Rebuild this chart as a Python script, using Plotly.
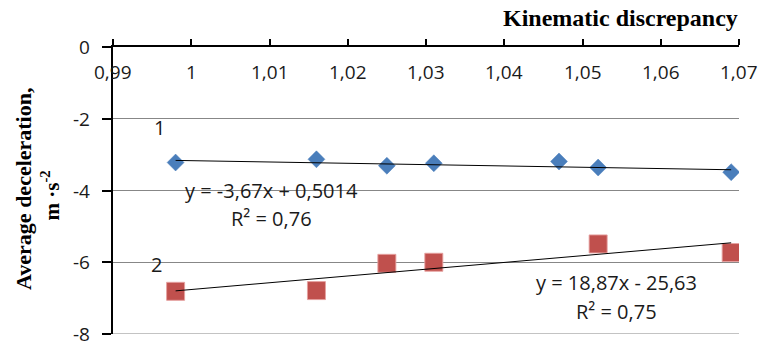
import plotly.graph_objects as go

# Data
x1 = [0.998, 1.016, 1.025, 1.031, 1.047, 1.052, 1.069]
y1 = [-3.22, -3.13, -3.31, -3.24, -3.19, -3.36, -3.49]
x2 = [0.998, 1.016, 1.025, 1.031, 1.052, 1.069]
y2 = [-6.81, -6.79, -6.03, -6.00, -5.49, -5.73]
fit1 = [-3.67, 0.5014]   # slope, intercept
fit2 = [18.87, -25.63]
xtick_vals = [0.99, 1.0, 1.01, 1.02, 1.03, 1.04, 1.05, 1.06, 1.07]
xtick_text = ["0,99", "1", "1,01", "1,02", "1,03", "1,04", "1,05", "1,06", "1,07"]
ytick_vals = [0, -2, -4, -6, -8]
ytick_text = ["0", "-2", "-4", "-6", "-8"]

blue = "#4A7EBB"
red = "#C0504D"
txt_color = "#1a1a1a"
sans = "Open Sans"

fig = go.Figure()
fig.add_trace(go.Scatter(x=x1, y=y1, mode="markers",
                         marker=dict(symbol="diamond", size=13, color=blue,
                                     line=dict(width=1, color="rgba(74,126,187,0.5)")),
                         showlegend=False))
fig.add_trace(go.Scatter(x=x2, y=y2, mode="markers",
                         marker=dict(symbol="square", size=18, color=red,
                                     line=dict(width=1, color="rgba(230,160,158,0.9)")),
                         showlegend=False))

for xs, f in ((x1, fit1), (x2, fit2)):
    xa, xb = min(xs), max(xs)
    fig.add_trace(go.Scatter(x=[xa, xb], y=[f[0] * xa + f[1], f[0] * xb + f[1]],
                             mode="lines", line=dict(color="black", width=1),
                             showlegend=False, hoverinfo="skip"))

# bottom gridline (plotly omits gridlines at the range edge)
fig.add_shape(type="line", xref="paper", x0=0, x1=1, yref="y",
              y0=min(ytick_vals), y1=min(ytick_vals),
              line=dict(color="#878787", width=1), layer="below")

lab_font = dict(family=sans, size=20, color=txt_color)
ann = [
    dict(x=0.9959, y=-2.23, text="1"),
    dict(x=0.9956, y=-6.07, text="2"),
    dict(x=1.0102, y=-4.0, text="y = -3,67x + 0,5014"),
    dict(x=1.0102, y=-4.79, text="R² = 0,76"),
    dict(x=1.0544, y=-6.57, text="y = 18,87x - 25,63"),
    dict(x=1.0544, y=-7.38, text="R² = 0,75"),
]
for a in ann:
    fig.add_annotation(x=a["x"], y=a["y"], text=a["text"], showarrow=False,
                       xref="x", yref="y", font=lab_font, xanchor="center", yanchor="middle")

# x tick labels (below the top axis line)
for v, t in zip(xtick_vals, xtick_text):
    fig.add_annotation(x=v, y=0, text=t, showarrow=False, xref="x", yref="y",
                       font=dict(family=sans, size=19, color=txt_color),
                       xanchor="center", yanchor="middle", yshift=-25)

# y tick labels
for v, t in zip(ytick_vals, ytick_text):
    fig.add_annotation(x=0, y=v, text=t, showarrow=False, xref="paper", yref="y",
                       font=dict(family=sans, size=19, color=txt_color),
                       xanchor="right", yanchor="middle", xshift=-21)

fig.add_annotation(x=0.810, y=1.10, xref="paper", yref="paper",
                   text="<b>Kinematic discrepancy</b>", showarrow=False,
                   font=dict(family="Liberation Serif", size=24, color="black"),
                   xanchor="center", yanchor="middle")
fig.add_annotation(x=-0.144, y=0.505, xref="paper", yref="paper",
                   text="<b>Average deceleration,</b>", showarrow=False, textangle=-90,
                   font=dict(family="Liberation Serif", size=22, color="black"),
                   xanchor="center", yanchor="middle")
fig.add_annotation(x=-0.1, y=0.484, xref="paper", yref="paper",
                   text="<b>m ·s<sup>-2</sup></b>", showarrow=False, textangle=-90,
                   font=dict(family="Liberation Serif", size=21, color="black"),
                   xanchor="center", yanchor="middle")

fig.update_layout(
    width=758, height=341,
    margin=dict(l=113, r=19, t=47, b=7, autoexpand=False),
    plot_bgcolor="white", paper_bgcolor="white",
    xaxis=dict(range=[0.99, 1.07], side="top", tickvals=xtick_vals,
               showticklabels=False, automargin=False,
               showline=True, linecolor="black", linewidth=2, ticks="outside",
               ticklen=6, tickwidth=2, tickcolor="black", showgrid=False, zeroline=False),
    yaxis=dict(range=[-8, 0], tickvals=ytick_vals, showticklabels=False, automargin=False,
               showline=True, linecolor="black", linewidth=2, ticks="outside",
               ticklen=9, tickwidth=2, tickcolor="black", showgrid=True,
               gridcolor="#878787", gridwidth=1, zeroline=False),
)

fig.write_html("out.html", config={"displayModeBar": False},
               post_script="document.body.style.margin='0';")
